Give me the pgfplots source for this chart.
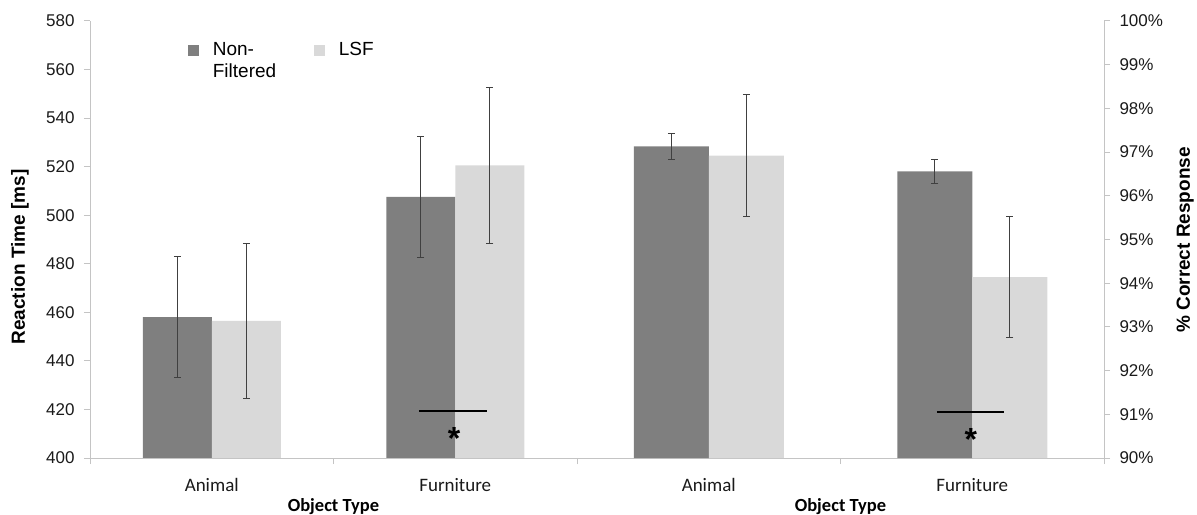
\documentclass[border=0pt]{standalone}
\usepackage{pgfplots}
\pgfplotsset{compat=1.18}
\usepackage{fontspec}
\setmainfont{Liberation Sans}
\newfontfamily\carlito{Carlito}
\definecolor{darkbar}{HTML}{7F7F7F}
\definecolor{lightbar}{HTML}{D9D9D9}
\definecolor{axgray}{HTML}{C4C4C4}
\definecolor{errgray}{HTML}{404040}
\definecolor{txt}{HTML}{1A1A1A}
\pgfplotsset{
  mybase/.style={
    scale only axis, height=437bp,
    xmin=-0.5, xmax=1.5,
    axis x line*=bottom,
    axis line style={axgray, line width=1bp, -},
    tick style={axgray, line width=1bp},
    tick align=outside,
    major tick length=6bp,
    minor tick length=6bp,
    xtick={0,1}, xticklabels={Animal,Furniture},
    major x tick style={draw=none},
    minor xtick={-0.5,0.5,1.5},
    xticklabel style={font=\carlito\fontsize{19bp}{22bp}\selectfont, text=txt, yshift=-11bp},
    yticklabel style={font=\fontsize{17bp}{20bp}\selectfont, text=txt},
    /pgf/number format/assume math mode=true,
    xlabel={Object Type},
    xlabel style={font=\carlito\bfseries\fontsize{18.5bp}{22bp}\selectfont, text=black, at={(axis description cs:0.5,-0.1235)}, anchor=base},
    ylabel style={font=\bfseries\fontsize{19bp}{22bp}\selectfont, text=black},
  },
  errs/.style 2 args={error bars/.cd, y dir=both, y explicit,
    error bar style={draw=errgray, line width=0.8bp, xshift=#1},
    error mark options={draw=errgray, line width=0.8bp, mark size=#2, rotate=90}},
}
\begin{document}
\begin{tikzpicture}
\useasboundingbox (0,0) rectangle (1197bp,515bp);
% Left chart: reaction time
\begin{axis}[mybase,
  at={(90bp,57bp)}, anchor=south west, width=487bp,
  ymin=400, ymax=580, ytick={400,420,...,580},
  axis y line*=left,
  yticklabel style={xshift=-6bp},
  ylabel={Reaction Time [ms]},
  ylabel style={at={(axis description cs:-0.144,0.46)}, anchor=center},
  legend style={draw=none, fill=none, at={(rel axis cs:0.201,0.956)}, anchor=north west,
    inner sep=0pt, outer sep=0pt, legend columns=2,
    font=\fontsize{19bp}{22bp}\selectfont,
    cells={anchor=base west, inner sep=0pt},
    /tikz/every odd column/.append style={column sep=12bp},
    /tikz/every even column/.append style={column sep=0bp}},
]
\addplot[ybar, fill=darkbar, draw=none, bar width=69bp, bar shift=-34.5bp,
  legend image code/.code={\fill[darkbar] (0bp,-1bp) rectangle (11bp,10bp);}, errs={-34.5bp}{3.5bp}]
  coordinates {(0,458.0) +- (0,25.0) (1,507.6) +- (0,25.0)};
\addlegendentry{\parbox[t]{99bp}{Non-\\Filtered}}
\addplot[ybar, fill=lightbar, draw=none, bar width=69bp, bar shift=34.5bp,
  legend image code/.code={\fill[lightbar] (0bp,-1bp) rectangle (11bp,10bp);}, errs={34.5bp}{3.5bp}]
  coordinates {(0,456.5) +- (0,32.0) (1,520.5) +- (0,32.0)};
\addlegendentry{LSF}
\addplot[black, line width=2bp, no markers, forget plot] coordinates {(0.851,419.5) (1.130,419.5)};
\node[font=\bfseries\fontsize{32bp}{32bp}\selectfont, anchor=base, inner sep=0pt] at (axis cs:0.995,403.3) {*};
\end{axis}
% Right chart: % correct
\begin{axis}[mybase,
  at={(577bp,57bp)}, anchor=south west, width=527bp,
  ymin=90, ymax=100, ytick={90,91,...,100},
  axis y line*=right,
  yticklabel={\pgfmathprintnumber{\tick}\%},
  yticklabel style={xshift=6bp},
  ylabel={\% Correct Response},
  ylabel style={at={(axis description cs:1.154,0.499)}, anchor=center},
]
\addplot[ybar, fill=darkbar, draw=none, bar width=75bp, bar shift=-37.5bp, errs={-37.5bp}{3.5bp}]
  coordinates {(0,97.13) +- (0,0.29) (1,96.56) +- (0,0.28)};
\addplot[ybar, fill=lightbar, draw=none, bar width=75bp, bar shift=37.5bp, errs={37.5bp}{3.5bp}]
  coordinates {(0,96.92) +- (0,1.40) (1,94.14) +- (0,1.39)};
\addplot[black, line width=2bp, no markers, forget plot] coordinates {(0.866,91.05) (1.120,91.05)};
\node[font=\bfseries\fontsize{32bp}{32bp}\selectfont, anchor=base, inner sep=0pt] at (axis cs:0.995,90.18) {*};
\end{axis}
\end{tikzpicture}
\end{document}
